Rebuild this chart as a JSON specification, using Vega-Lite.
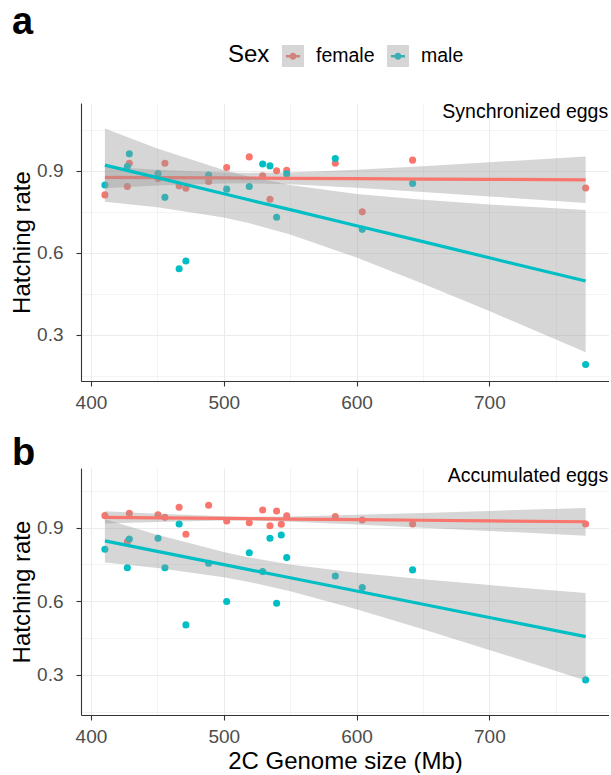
{
  "$schema": "https://vega.github.io/schema/vega-lite/v6.json",
  "background": "white",
  "padding": {"left": 10, "top": 4, "right": 0, "bottom": 0},
  "spacing": 22,
  "config": {
    "font": "Liberation Sans",
    "view": {"stroke": null},
    "axis": {
      "domainColor": "#333333", "domainWidth": 1.1,
      "tickColor": "#333333", "tickWidth": 1.1, "tickSize": 5,
      "labelColor": "#4D4D4D", "labelFontSize": 19, "labelFont": "Liberation Sans",
      "titleFont": "Liberation Sans", "titleFontSize": 24, "titleFontWeight": "normal", "titleColor": "#000000",
      "gridColor": "#EBEBEB"
    },
    "axisX": {"labelPadding": 7, "titlePadding": 3},
    "axisY": {"labelPadding": 13, "titlePadding": 2},
    "legend": {
      "orient": "none", "legendX": 147, "legendY": -58, "direction": "horizontal",
      "titleOrient": "left", "titleFontSize": 24, "titleFontWeight": "normal", "titlePadding": 12,
      "labelFontSize": 19.5, "labelOffset": 12, "columnPadding": 12,
      "symbolSize": 484, "symbolStrokeWidth": 0
    }
  },
  "resolve": {"scale": {"x": "independent", "y": "independent"}},
  "datasets": {
    "pts": [
      {"panel": "a", "sex": "female", "size": 410.5, "rate": 0.812},
      {"panel": "a", "sex": "female", "size": 427.4, "rate": 0.843},
      {"panel": "a", "sex": "female", "size": 428.9, "rate": 0.928},
      {"panel": "a", "sex": "female", "size": 450.5, "rate": 0.872},
      {"panel": "a", "sex": "female", "size": 455.7, "rate": 0.928},
      {"panel": "a", "sex": "female", "size": 466.4, "rate": 0.845},
      {"panel": "a", "sex": "female", "size": 471.5, "rate": 0.836},
      {"panel": "a", "sex": "female", "size": 488.6, "rate": 0.861},
      {"panel": "a", "sex": "female", "size": 502.2, "rate": 0.912},
      {"panel": "a", "sex": "female", "size": 519.2, "rate": 0.951},
      {"panel": "a", "sex": "female", "size": 529.3, "rate": 0.882},
      {"panel": "a", "sex": "female", "size": 534.8, "rate": 0.796},
      {"panel": "a", "sex": "female", "size": 539.8, "rate": 0.900},
      {"panel": "a", "sex": "female", "size": 547.4, "rate": 0.902},
      {"panel": "a", "sex": "female", "size": 584.0, "rate": 0.928},
      {"panel": "a", "sex": "female", "size": 604.3, "rate": 0.750},
      {"panel": "a", "sex": "female", "size": 642.2, "rate": 0.939},
      {"panel": "a", "sex": "female", "size": 772.5, "rate": 0.837},
      {"panel": "a", "sex": "male", "size": 410.5, "rate": 0.848},
      {"panel": "a", "sex": "male", "size": 427.4, "rate": 0.916},
      {"panel": "a", "sex": "male", "size": 428.9, "rate": 0.962},
      {"panel": "a", "sex": "male", "size": 450.5, "rate": 0.890},
      {"panel": "a", "sex": "male", "size": 455.7, "rate": 0.803},
      {"panel": "a", "sex": "male", "size": 466.4, "rate": 0.542},
      {"panel": "a", "sex": "male", "size": 471.5, "rate": 0.570},
      {"panel": "a", "sex": "male", "size": 488.6, "rate": 0.885},
      {"panel": "a", "sex": "male", "size": 502.2, "rate": 0.833},
      {"panel": "a", "sex": "male", "size": 519.2, "rate": 0.843},
      {"panel": "a", "sex": "male", "size": 529.3, "rate": 0.925},
      {"panel": "a", "sex": "male", "size": 534.8, "rate": 0.918},
      {"panel": "a", "sex": "male", "size": 539.8, "rate": 0.730},
      {"panel": "a", "sex": "male", "size": 547.4, "rate": 0.888},
      {"panel": "a", "sex": "male", "size": 584.0, "rate": 0.945},
      {"panel": "a", "sex": "male", "size": 604.3, "rate": 0.686},
      {"panel": "a", "sex": "male", "size": 642.2, "rate": 0.854},
      {"panel": "a", "sex": "male", "size": 772.5, "rate": 0.192},
      {"panel": "b", "sex": "female", "size": 410.5, "rate": 0.949},
      {"panel": "b", "sex": "female", "size": 427.4, "rate": 0.843},
      {"panel": "b", "sex": "female", "size": 428.9, "rate": 0.959},
      {"panel": "b", "sex": "female", "size": 450.5, "rate": 0.952},
      {"panel": "b", "sex": "female", "size": 455.7, "rate": 0.942},
      {"panel": "b", "sex": "female", "size": 466.4, "rate": 0.983},
      {"panel": "b", "sex": "female", "size": 471.5, "rate": 0.873},
      {"panel": "b", "sex": "female", "size": 488.6, "rate": 0.991},
      {"panel": "b", "sex": "female", "size": 502.2, "rate": 0.927},
      {"panel": "b", "sex": "female", "size": 519.2, "rate": 0.920},
      {"panel": "b", "sex": "female", "size": 529.3, "rate": 0.972},
      {"panel": "b", "sex": "female", "size": 534.8, "rate": 0.908},
      {"panel": "b", "sex": "female", "size": 539.8, "rate": 0.968},
      {"panel": "b", "sex": "female", "size": 543.3, "rate": 0.914},
      {"panel": "b", "sex": "female", "size": 547.4, "rate": 0.948},
      {"panel": "b", "sex": "female", "size": 584.0, "rate": 0.945},
      {"panel": "b", "sex": "female", "size": 604.3, "rate": 0.931},
      {"panel": "b", "sex": "female", "size": 642.2, "rate": 0.915},
      {"panel": "b", "sex": "female", "size": 772.5, "rate": 0.915},
      {"panel": "b", "sex": "male", "size": 410.5, "rate": 0.812},
      {"panel": "b", "sex": "male", "size": 427.4, "rate": 0.737},
      {"panel": "b", "sex": "male", "size": 428.9, "rate": 0.854},
      {"panel": "b", "sex": "male", "size": 450.5, "rate": 0.857},
      {"panel": "b", "sex": "male", "size": 455.7, "rate": 0.737},
      {"panel": "b", "sex": "male", "size": 466.4, "rate": 0.915},
      {"panel": "b", "sex": "male", "size": 471.5, "rate": 0.504},
      {"panel": "b", "sex": "male", "size": 488.6, "rate": 0.755},
      {"panel": "b", "sex": "male", "size": 502.2, "rate": 0.599},
      {"panel": "b", "sex": "male", "size": 519.2, "rate": 0.798},
      {"panel": "b", "sex": "male", "size": 529.3, "rate": 0.721},
      {"panel": "b", "sex": "male", "size": 534.8, "rate": 0.857},
      {"panel": "b", "sex": "male", "size": 539.8, "rate": 0.592},
      {"panel": "b", "sex": "male", "size": 543.3, "rate": 0.870},
      {"panel": "b", "sex": "male", "size": 547.4, "rate": 0.778},
      {"panel": "b", "sex": "male", "size": 584.0, "rate": 0.703},
      {"panel": "b", "sex": "male", "size": 604.3, "rate": 0.656},
      {"panel": "b", "sex": "male", "size": 642.2, "rate": 0.728},
      {"panel": "b", "sex": "male", "size": 772.5, "rate": 0.280}
    ],
    "fits": [
      {"panel": "a", "sex": "female", "size": 410.5, "fit": 0.876, "lo": 0.836, "hi": 0.916},
      {"panel": "a", "sex": "female", "size": 450, "fit": 0.875, "lo": 0.846, "hi": 0.904},
      {"panel": "a", "sex": "female", "size": 500, "fit": 0.874, "lo": 0.854, "hi": 0.894},
      {"panel": "a", "sex": "female", "size": 518, "fit": 0.8735, "lo": 0.8545, "hi": 0.8925},
      {"panel": "a", "sex": "female", "size": 550, "fit": 0.8725, "lo": 0.851, "hi": 0.894},
      {"panel": "a", "sex": "female", "size": 600, "fit": 0.8713, "lo": 0.8385, "hi": 0.904},
      {"panel": "a", "sex": "female", "size": 650, "fit": 0.870, "lo": 0.823, "hi": 0.917},
      {"panel": "a", "sex": "female", "size": 700, "fit": 0.8688, "lo": 0.8065, "hi": 0.931},
      {"panel": "a", "sex": "female", "size": 772.5, "fit": 0.867, "lo": 0.782, "hi": 0.952},
      {"panel": "a", "sex": "male", "size": 410.5, "fit": 0.921, "lo": 0.787, "hi": 1.055},
      {"panel": "a", "sex": "male", "size": 450, "fit": 0.875, "lo": 0.767, "hi": 0.982},
      {"panel": "a", "sex": "male", "size": 500, "fit": 0.816, "lo": 0.729, "hi": 0.903},
      {"panel": "a", "sex": "male", "size": 518, "fit": 0.795, "lo": 0.710, "hi": 0.880},
      {"panel": "a", "sex": "male", "size": 550, "fit": 0.758, "lo": 0.667, "hi": 0.848},
      {"panel": "a", "sex": "male", "size": 600, "fit": 0.699, "lo": 0.583, "hi": 0.815},
      {"panel": "a", "sex": "male", "size": 650, "fit": 0.641, "lo": 0.487, "hi": 0.794},
      {"panel": "a", "sex": "male", "size": 700, "fit": 0.582, "lo": 0.387, "hi": 0.777},
      {"panel": "a", "sex": "male", "size": 772.5, "fit": 0.497, "lo": 0.237, "hi": 0.757},
      {"panel": "b", "sex": "female", "size": 410.5, "fit": 0.942, "lo": 0.917, "hi": 0.967},
      {"panel": "b", "sex": "female", "size": 450, "fit": 0.940, "lo": 0.923, "hi": 0.957},
      {"panel": "b", "sex": "female", "size": 500, "fit": 0.9376, "lo": 0.9288, "hi": 0.9464},
      {"panel": "b", "sex": "female", "size": 518, "fit": 0.9367, "lo": 0.9288, "hi": 0.9446},
      {"panel": "b", "sex": "female", "size": 550, "fit": 0.9351, "lo": 0.9245, "hi": 0.9457},
      {"panel": "b", "sex": "female", "size": 600, "fit": 0.9326, "lo": 0.9129, "hi": 0.9523},
      {"panel": "b", "sex": "female", "size": 650, "fit": 0.9301, "lo": 0.900, "hi": 0.9602},
      {"panel": "b", "sex": "female", "size": 700, "fit": 0.9276, "lo": 0.8869, "hi": 0.9683},
      {"panel": "b", "sex": "female", "size": 772.5, "fit": 0.924, "lo": 0.8675, "hi": 0.9805},
      {"panel": "b", "sex": "male", "size": 410.5, "fit": 0.846, "lo": 0.758, "hi": 0.934},
      {"panel": "b", "sex": "male", "size": 450, "fit": 0.8035, "lo": 0.736, "hi": 0.871},
      {"panel": "b", "sex": "male", "size": 500, "fit": 0.7496, "lo": 0.698, "hi": 0.801},
      {"panel": "b", "sex": "male", "size": 518, "fit": 0.7302, "lo": 0.680, "hi": 0.780},
      {"panel": "b", "sex": "male", "size": 550, "fit": 0.6958, "lo": 0.641, "hi": 0.750},
      {"panel": "b", "sex": "male", "size": 600, "fit": 0.6419, "lo": 0.568, "hi": 0.716},
      {"panel": "b", "sex": "male", "size": 650, "fit": 0.5881, "lo": 0.486, "hi": 0.690},
      {"panel": "b", "sex": "male", "size": 700, "fit": 0.5342, "lo": 0.402, "hi": 0.666},
      {"panel": "b", "sex": "male", "size": 772.5, "fit": 0.4561, "lo": 0.278, "hi": 0.634}
    ]
  },
  "vconcat": [
    {
      "width": 528,
      "height": 278,
      "title": {"text": "a", "anchor": "start", "frame": "group", "fontSize": 38, "fontWeight": "bold", "color": "#000000", "dx": -69, "dy": -56},
      "encoding": {
        "x": {"type": "quantitative", "scale": {"domain": [392.5, 790.1], "nice": false, "zero": false},
          "axis": {"title": null, "values": [400, 450, 500, 550, 600, 650, 700, 750],
            "labelExpr": "datum.value % 100 === 0 ? datum.label : ''",
            "tickOpacity": {"condition": {"test": "datum.value % 100 === 0", "value": 1}, "value": 0},
            "gridWidth": {"condition": {"test": "datum.value % 100 === 0", "value": 1.07}, "value": 0.53}}},
        "y": {"type": "quantitative", "scale": {"domain": [0.1315, 1.148], "nice": false, "zero": false},
          "axis": {"title": "Hatching rate", "values": [0.15, 0.3, 0.45, 0.6, 0.75, 0.9, 1.05],
            "labelExpr": "(datum.value === 0.3 || datum.value === 0.6 || datum.value === 0.9) ? format(datum.value, '.1f') : ''",
            "tickOpacity": {"condition": {"test": "datum.value === 0.3 || datum.value === 0.6 || datum.value === 0.9", "value": 1}, "value": 0},
            "gridWidth": {"condition": {"test": "datum.value === 0.3 || datum.value === 0.6 || datum.value === 0.9", "value": 1.07}, "value": 0.53}}}
      },
      "layer": [
        {
          "data": {"name": "pts"},
          "transform": [{"filter": "datum.panel === 'a'"}],
          "mark": {"type": "circle", "size": 50, "opacity": 1},
          "encoding": {
            "x": {"field": "size"},
            "y": {"field": "rate"},
            "fill": {"field": "sex", "type": "nominal",
              "scale": {"domain": ["female", "male"], "range": ["#F8766D", "#00BFC4"]},
              "legend": {"title": "Sex", "titleColor": "#000000", "labelColor": "#000000",
                "symbolType": "M-0.64,-0.11H0.64V0.11H-0.64Z M0.32,0A0.32,0.32 0 1,1 -0.32,0A0.32,0.32 0 1,1 0.32,0Z"}}
          }
        },
        {
          "data": {"name": "fits"},
          "transform": [{"filter": "datum.panel === 'a' && datum.sex === 'female'"}],
          "mark": {"type": "area", "opacity": 0.4},
          "encoding": {"x": {"field": "size"}, "y": {"field": "lo"}, "y2": {"field": "hi"},
            "color": {"field": "sex", "type": "nominal",
              "scale": {"range": ["#999999", "#999999"]},
              "legend": {"title": "Sex", "titleColor": "transparent", "labelColor": "transparent", "symbolType": "square", "symbolOpacity": 0.4}}}
        },
        {
          "data": {"name": "fits"},
          "transform": [{"filter": "datum.panel === 'a' && datum.sex === 'female'"}],
          "mark": {"type": "line", "strokeWidth": 3.2},
          "encoding": {"x": {"field": "size"}, "y": {"field": "fit"},
            "stroke": {"field": "sex", "type": "nominal", "scale": {"domain": ["female", "male"], "range": ["#F8766D", "#00BFC4"]}, "legend": null}}
        },
        {
          "data": {"name": "fits"},
          "transform": [{"filter": "datum.panel === 'a' && datum.sex === 'male'"}],
          "mark": {"type": "area", "opacity": 0.4},
          "encoding": {"x": {"field": "size"}, "y": {"field": "lo"}, "y2": {"field": "hi"},
            "color": {"field": "sex", "type": "nominal"}}
        },
        {
          "data": {"name": "fits"},
          "transform": [{"filter": "datum.panel === 'a' && datum.sex === 'male'"}],
          "mark": {"type": "line", "strokeWidth": 3.2},
          "encoding": {"x": {"field": "size"}, "y": {"field": "fit"}, "stroke": {"field": "sex", "type": "nominal", "legend": null}}
        },
        {
          "data": {"values": [{"label": "Synchronized eggs"}]},
          "mark": {"type": "text", "align": "right", "baseline": "alphabetic", "fontSize": 19.5, "color": "#000000"},
          "encoding": {"x": {"datum": 789.5}, "y": {"datum": 1.092}, "text": {"field": "label"}}
        }
      ]
    },
    {
      "width": 528,
      "height": 247,
      "title": {"text": "b", "anchor": "start", "frame": "group", "fontSize": 38, "fontWeight": "bold", "color": "#000000", "dx": -69, "dy": 11},
      "encoding": {
        "x": {"type": "quantitative", "scale": {"domain": [392.5, 790.1], "nice": false, "zero": false},
          "axis": {"title": "2C Genome size (Mb)", "values": [400, 450, 500, 550, 600, 650, 700, 750],
            "labelExpr": "datum.value % 100 === 0 ? datum.label : ''",
            "tickOpacity": {"condition": {"test": "datum.value % 100 === 0", "value": 1}, "value": 0},
            "gridWidth": {"condition": {"test": "datum.value % 100 === 0", "value": 1.07}, "value": 0.53}}},
        "y": {"type": "quantitative", "scale": {"domain": [0.137, 1.143], "nice": false, "zero": false},
          "axis": {"title": "Hatching rate", "values": [0.15, 0.3, 0.45, 0.6, 0.75, 0.9, 1.05],
            "labelExpr": "(datum.value === 0.3 || datum.value === 0.6 || datum.value === 0.9) ? format(datum.value, '.1f') : ''",
            "tickOpacity": {"condition": {"test": "datum.value === 0.3 || datum.value === 0.6 || datum.value === 0.9", "value": 1}, "value": 0},
            "gridWidth": {"condition": {"test": "datum.value === 0.3 || datum.value === 0.6 || datum.value === 0.9", "value": 1.07}, "value": 0.53}}}
      },
      "layer": [
        {
          "data": {"name": "pts"},
          "transform": [{"filter": "datum.panel === 'b'"}],
          "mark": {"type": "circle", "size": 50, "opacity": 1},
          "encoding": {"x": {"field": "size"}, "y": {"field": "rate"}, "fill": {"field": "sex", "type": "nominal"}}
        },
        {
          "data": {"name": "fits"},
          "transform": [{"filter": "datum.panel === 'b' && datum.sex === 'female'"}],
          "mark": {"type": "area", "opacity": 0.4},
          "encoding": {"x": {"field": "size"}, "y": {"field": "lo"}, "y2": {"field": "hi"}, "color": {"field": "sex", "type": "nominal"}}
        },
        {
          "data": {"name": "fits"},
          "transform": [{"filter": "datum.panel === 'b' && datum.sex === 'female'"}],
          "mark": {"type": "line", "strokeWidth": 3.2},
          "encoding": {"x": {"field": "size"}, "y": {"field": "fit"}, "stroke": {"field": "sex", "type": "nominal", "legend": null}}
        },
        {
          "data": {"name": "fits"},
          "transform": [{"filter": "datum.panel === 'b' && datum.sex === 'male'"}],
          "mark": {"type": "area", "opacity": 0.4},
          "encoding": {"x": {"field": "size"}, "y": {"field": "lo"}, "y2": {"field": "hi"}, "color": {"field": "sex", "type": "nominal"}}
        },
        {
          "data": {"name": "fits"},
          "transform": [{"filter": "datum.panel === 'b' && datum.sex === 'male'"}],
          "mark": {"type": "line", "strokeWidth": 3.2},
          "encoding": {"x": {"field": "size"}, "y": {"field": "fit"}, "stroke": {"field": "sex", "type": "nominal", "legend": null}}
        },
        {
          "data": {"values": [{"label": "Accumulated eggs"}]},
          "mark": {"type": "text", "align": "right", "baseline": "alphabetic", "fontSize": 19.5, "color": "#000000"},
          "encoding": {"x": {"datum": 789.5}, "y": {"datum": 1.087}, "text": {"field": "label"}}
        }
      ]
    }
  ]
}
